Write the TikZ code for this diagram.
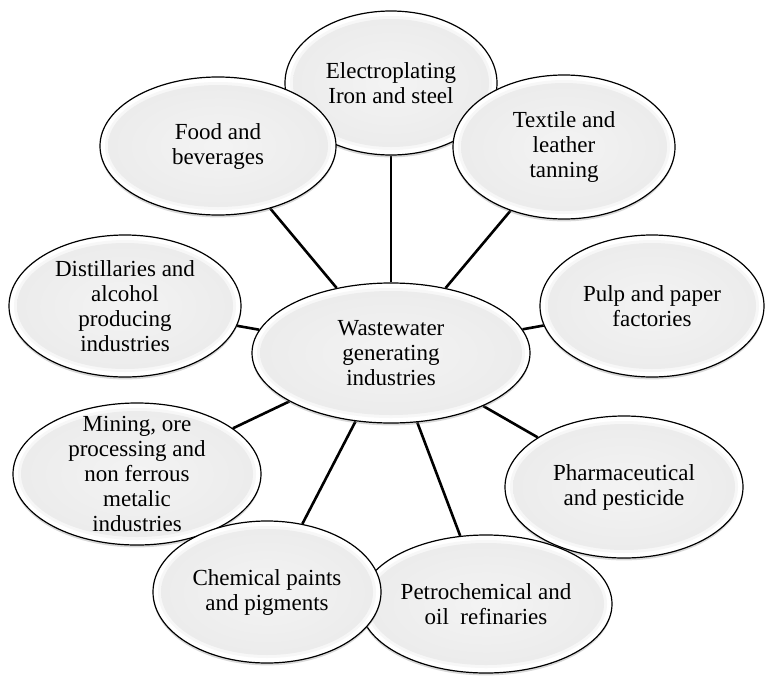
\documentclass[tikz,border=0pt]{standalone}
\usepackage{fontspec}
\setmainfont{Liberation Serif}
\usetikzlibrary{shapes.geometric,shadows,calc,backgrounds}

\newcommand\unitfont{\fontsize{11.5}{12.5}\selectfont}

\begin{document}
\begin{tikzpicture}[x=0.5pt,y=-0.5pt,
    unit/.style={ellipse, draw=black, line width=0.6pt, fill=white,
      inner xsep=-5pt, inner ysep=-10pt, align=center, font=\unitfont,
      drop shadow={shadow xshift=0pt, shadow yshift=-1.2pt, opacity=.3},
      path picture={\path let \p1=(path picture bounding box.north east),
            \p2=(path picture bounding box.center) in
        [fill=gray!6] (\p2) ellipse [x radius=\x1-\x2-2.5pt, y radius=\y1-\y2-2.5pt];
        \shade[inner color=gray!9, outer color=gray!15]
        let \p1=(path picture bounding box.north east),
            \p2=(path picture bounding box.center) in
        (\p2) ellipse [x radius=\x1-\x2-4pt, y radius=\y1-\y2-4pt];}},
    link/.style={line width=1.3pt}]
      % \draw[help lines](0,0) grid (766,675);
      \useasboundingbox (0,0) rectangle (766,675);

      \draw (391,83) node[unit,minimum width=106pt,minimum height=72pt] (elec) {Electroplating\\Iron and steel};
      \draw (218,146) node[unit,minimum width=118pt,minimum height=69pt] (food) {Food and\\beverages};
      \draw (564,147) node[unit,minimum width=111pt,minimum height=72pt] (textile) {Textile and\\leather\\tanning};
      \draw (125,306) node[unit,minimum width=116pt,minimum height=71pt] (distil) {Distillaries and\\alcohol\\producing\\industries};
      \draw (652,306) node[unit,minimum width=112pt,minimum height=71pt] (pulp) {Pulp and paper\\factories};
      \draw (137,474) node[unit,minimum width=124pt,minimum height=71pt] (mining) {Mining, ore\\processing and\\non ferrous\\metalic\\industries};
      \draw (624,487) node[unit,minimum width=119pt,minimum height=71pt] (pharma) {Pharmaceutical\\and pesticide};
      \draw (486,604) node[unit,minimum width=126pt,minimum height=69pt] (petro) {Petrochemical and\\oil\ \ refinaries};
      \draw (267,592) node[unit,minimum width=114pt,minimum height=71pt] (chem) {Chemical paints\\and pigments};
      \draw (391,353) node[unit,minimum width=139pt,minimum height=70pt] (hub) {Wastewater\\generating\\industries};

      \begin{pgfonlayer}{background}
      \draw [link] (hub) -- (elec);
      \draw [link] (hub) -- (food);
      \draw [link] (hub) -- (textile);
      \draw [link] (hub) -- (distil);
      \draw [link] (hub) -- (pulp);
      \draw [link] (hub) -- (mining);
      \draw [link] (hub) -- (pharma);
      \draw [link] (hub) -- (petro);
      \draw [link] (hub) -- (chem);
      \end{pgfonlayer}
    \end{tikzpicture}
\end{document}
